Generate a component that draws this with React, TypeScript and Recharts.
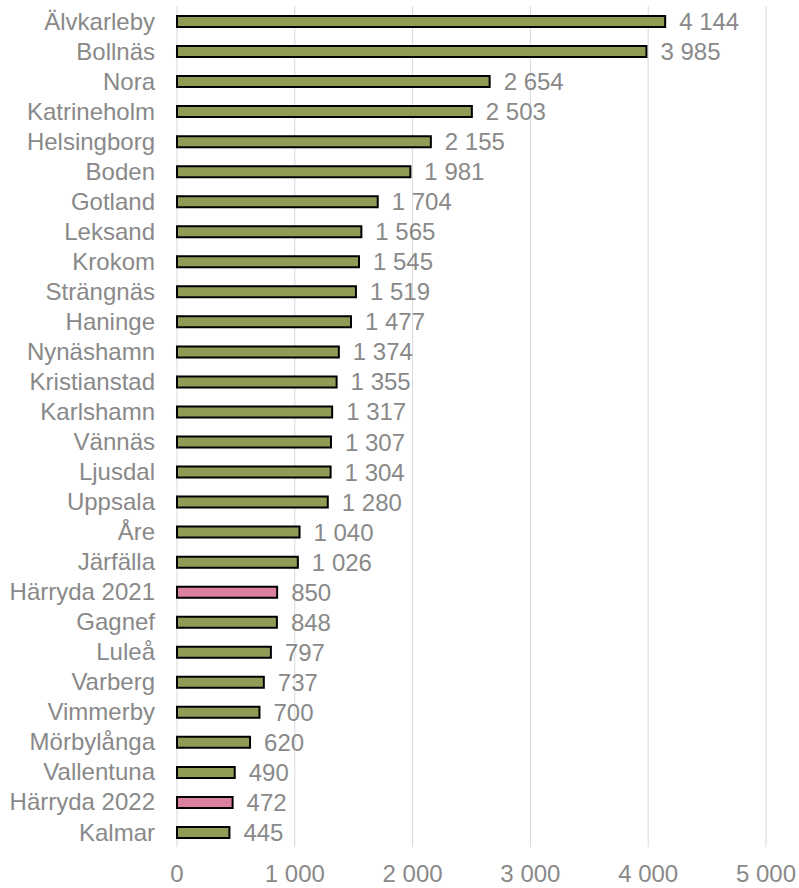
import React from "react";
import { BarChart, Bar, XAxis, YAxis, CartesianGrid, Cell, LabelList } from "recharts";

const categories = ["Älvkarleby","Bollnäs","Nora","Katrineholm","Helsingborg","Boden","Gotland","Leksand","Krokom","Strängnäs","Haninge","Nynäshamn","Kristianstad","Karlshamn","Vännäs","Ljusdal","Uppsala","Åre","Järfälla","Härryda 2021","Gagnef","Luleå","Varberg","Vimmerby","Mörbylånga","Vallentuna","Härryda 2022","Kalmar"];
const values = [4144,3985,2654,2503,2155,1981,1704,1565,1545,1519,1477,1374,1355,1317,1307,1304,1280,1040,1026,850,848,797,737,700,620,490,472,445];
const highlighted = ["Härryda 2021", "Härryda 2022"];
const xTicks = [0, 1000, 2000, 3000, 4000, 5000];

const data = categories.map((name, i) => ({ name, value: values[i] }));
const fmt = (v: number) => String(v).replace(/\B(?=(\d{3})+(?!\d))/g, " ");

export default function App() {
  return (
    <div style={{ position: "absolute", left: 0, top: 0, width: 799, height: 888, background: "#fff" }}>
      <BarChart width={799} height={888} data={data} layout="vertical"
        margin={{ top: 6, right: 33, bottom: 0, left: 0 }} barCategoryGap={0}
        style={{ fontFamily: "'Liberation Sans', Arial, sans-serif" }}>
        <CartesianGrid horizontal={false} stroke="#d9d9d9" strokeWidth={1} />
        <XAxis type="number" domain={[0, 5000]} ticks={xTicks} tickFormatter={fmt}
          axisLine={false} tickLine={false} height={41} tickMargin={12}
          tick={{ fill: "#898989", fontSize: 24 }} />
        <YAxis type="category" dataKey="name" width={177} axisLine={false} tickLine={false}
          tickMargin={16} interval={0} tick={{ fill: "#898989", fontSize: 24 }} />
        <Bar dataKey="value" barSize={11} stroke="#000" strokeWidth={2} isAnimationActive={false}>
          {data.map((d) => (
            <Cell key={d.name} fill={highlighted.includes(d.name) ? "#dc80a0" : "#8f9c55"} />
          ))}
          <LabelList dataKey="value" position="right" offset={14} formatter={(v: any) => fmt(Number(v))}
            style={{ fill: "#898989", fontSize: 24 }} />
        </Bar>
      </BarChart>
    </div>
  );
}
